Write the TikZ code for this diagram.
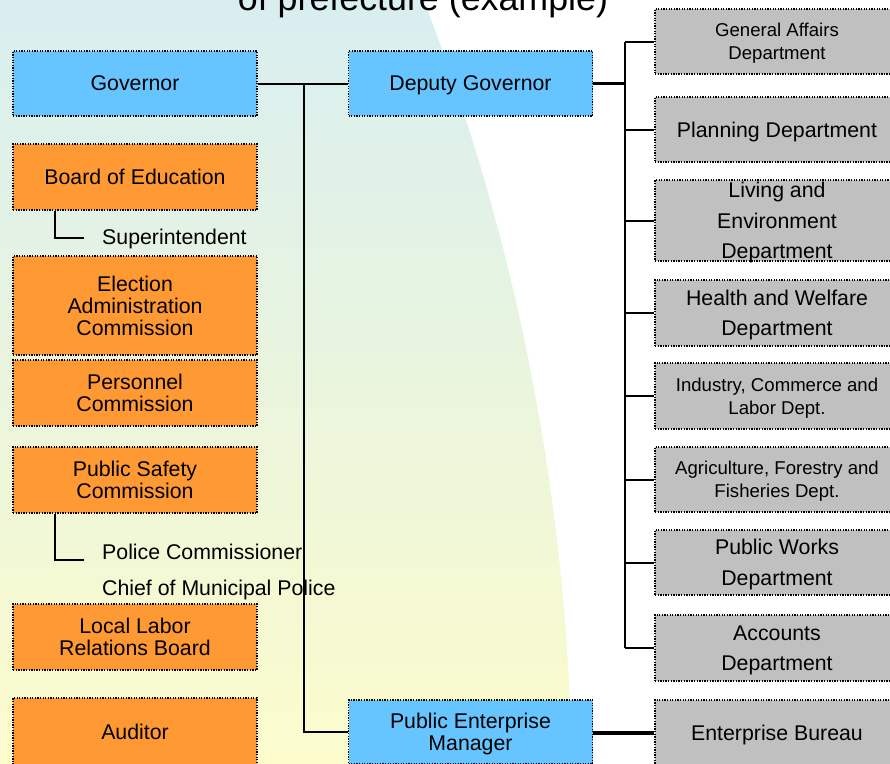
\documentclass[tikz,border=0pt]{standalone}
\usepackage{fontspec}
\setmainfont{Liberation Sans}
\definecolor{bgtop}{RGB}{216,238,240}
\definecolor{bgbot}{RGB}{252,252,204}
\definecolor{bluebox}{RGB}{102,196,255}
\definecolor{orangebox}{RGB}{255,153,51}
\definecolor{graybox}{RGB}{192,192,192}
\tikzset{
  boxbase/.style={draw=black, line width=1.3pt, dash pattern=on 1.3pt off 1.3pt,
    minimum width=244pt, inner sep=0pt, align=center, text=black, text depth=0pt,
    font=\fontsize{21.3}{22}\selectfont},
  bluenode/.style={boxbase, fill=bluebox},
  orangenode/.style={boxbase, fill=orangebox},
  graynode/.style={boxbase, fill=graybox, font=\fontsize{21.3}{30.5}\selectfont},
  graysmall/.style={boxbase, fill=graybox, font=\fontsize{18.6}{23}\selectfont},
  plaintext/.style={anchor=base west, inner sep=0pt, text=black, font=\fontsize{21.3}{22}\selectfont},
  thinline/.style={line width=2pt},
  thickline/.style={line width=3.5pt},
  busline/.style={line width=2.6pt},
}
\begin{document}
\begin{tikzpicture}[x=1pt,y=-1pt]
\useasboundingbox (0,0) rectangle (890,763);
\clip (0,0) rectangle (890,763);
\fill[white] (0,0) rectangle (890,763);
% background
\begin{scope}
  \clip (-1650,800) circle [radius=2222pt];
  \shade[top color=bgtop, bottom color=bgbot] (0,0) rectangle (890,763);
\end{scope}
% title
\node[anchor=base, inner sep=0pt, font=\fontsize{35.8}{40}\selectfont] (title) at (423,10) {of prefecture (example)};

% left column
\node[bluenode, minimum height=65pt] (gov) at (135,83.5) {Governor};
\node[bluenode, minimum height=65pt] (dep) at (470.5,83.5) {Deputy Governor};
\node[orangenode, minimum height=66pt] (boe) at (135,177) {Board of Education};
\node[plaintext] (sup) at (102,244) {Superintendent};
\node[orangenode, minimum height=99pt] (eac) at (135,305.5) {Election\\Administration\\Commission};
\node[orangenode, minimum height=66pt] (pc) at (135,393) {Personnel\\Commission};
\node[orangenode, minimum height=66pt] (psc) at (135,480) {Public Safety\\Commission};
\node[plaintext] (police) at (102,559.5) {Police Commissioner};
\node[plaintext] (chief) at (102,595) {Chief of Municipal Police};
\node[orangenode, minimum height=66pt] (llrb) at (135,637) {Local Labor\\Relations Board};
\node[orangenode, minimum height=68pt] (aud) at (135,732) {Auditor};
\node[bluenode, minimum height=64pt] (pem) at (470.5,732) {Public Enterprise\\Manager};

% right column
\node[graysmall, minimum height=65pt] (ga) at (777,41.5) {General Affairs\\Department};
\node[graynode, minimum height=65pt] (plan) at (777,129.5) {Planning Department};
\node[graynode, minimum height=81pt] (live) at (777,220.5) {Living and\\Environment\\Department};
\node[graynode, minimum height=66pt] (hw) at (777,313) {Health and Welfare\\Department};
\node[graysmall, minimum height=66pt] (ind) at (777,396) {Industry, Commerce and\\Labor Dept.};
\node[graysmall, minimum height=65pt] (agr) at (777,479.5) {Agriculture, Forestry and\\Fisheries Dept.};
\node[graynode, minimum height=65pt] (pw) at (777,562.5) {Public Works\\Department};
\node[graynode, minimum height=66pt] (acc) at (777,648) {Accounts\\Department};
\node[graynode, minimum height=66pt] (ent) at (777,733) {Enterprise Bureau};

% connectors
\coordinate (j1) at (304,83.5);
\coordinate (bus) at (625,83.5);
\coordinate (bustop) at (625,41.5);
\coordinate (busbot) at (625,648);
\coordinate (supend) at (84,238);
\coordinate (polend) at (84,560);

\draw[thinline] (gov.east) -- (dep.west);
\draw[thinline] (j1) |- (pem.west);
\draw[thickline] (dep.east) -- (bus);
\draw[busline] (bustop) -- (busbot);
\foreach \n in {ga,plan,live,hw,ind,agr,pw,acc}
  \draw[thinline] (625,0 |- \n.west) -- (\n.west);
\draw[thickline] (pem.east |- ent.west) -- (ent.west);
\draw[thinline] ([xshift=-80pt]boe.south) |- (supend);
\draw[thinline] ([xshift=-80pt]psc.south) |- (polend);
\end{tikzpicture}
\end{document}
